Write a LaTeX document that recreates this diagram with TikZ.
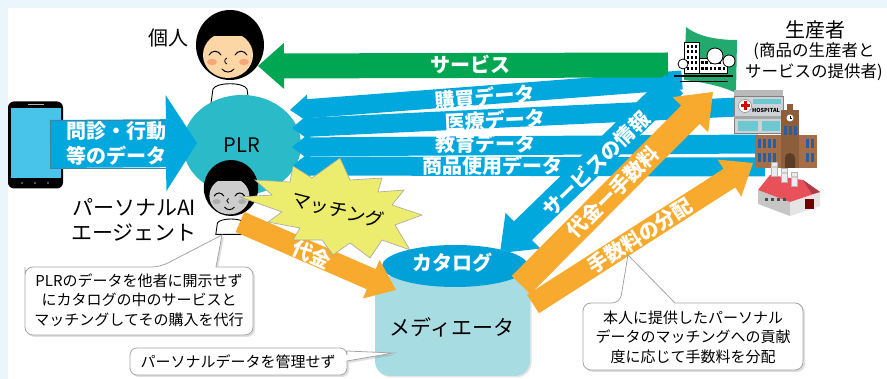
\documentclass[tikz,border=0pt]{standalone}
\usepackage{fontspec}
\setmainfont{Noto Sans CJK JP}
\usetikzlibrary{calc,shadows,shapes.geometric}

\definecolor{bgblue}{RGB}{234,245,252}
\definecolor{flowblue}{RGB}{0,168,222}
\definecolor{flowedge}{RGB}{70,130,160}
\definecolor{plrteal}{RGB}{43,187,200}
\definecolor{svcgreen}{RGB}{0,166,81}
\definecolor{feeorange}{RGB}{247,170,45}
\definecolor{burst}{RGB}{236,236,110}
\definecolor{medfill}{RGB}{168,220,227}
\definecolor{catblue}{RGB}{0,160,216}
\definecolor{skin}{RGB}{253,214,165}
\definecolor{cheek}{RGB}{246,168,118}
\definecolor{agentface}{RGB}{205,205,205}
\definecolor{agentcheek}{RGB}{172,172,172}
\definecolor{notegray}{RGB}{165,165,165}
\definecolor{phonescreen}{RGB}{72,196,235}
\definecolor{officegreen}{RGB}{34,170,110}
\definecolor{hospgray}{RGB}{205,210,215}
\definecolor{hospwin}{RGB}{110,200,210}
\definecolor{univbrown}{RGB}{165,110,70}
\definecolor{univwin}{RGB}{40,95,160}
\definecolor{roofred}{RGB}{232,80,90}

% block arrow: [style]{tail}{tip}{body half width}{head half width}{head length}
\newcommand\blockarrow[6][]{%
  \coordinate (ba-h) at ($(#3)!#6!(#2)$);
  \path[#1] ($(#2)!#4!90:(#3)$) -- ($(ba-h)!#4!90:(#3)$) -- ($(ba-h)!#5!90:(#3)$)
    -- (#3) -- ($(ba-h)!#5!-90:(#3)$) -- ($(ba-h)!#4!-90:(#3)$)
    -- ($(#2)!#4!-90:(#3)$) -- cycle;}

% white label on a flow arrow: {name}{x,y}{angle}{text}
\newcommand\flowlabel[4]{%
  \node[wlab, rotate=#3] (#1) at (#2) {#4};}

\tikzset{
  wlab/.style={text=white, font=\bfseries\fontsize{20}{25}\selectfont, inner sep=0pt, align=center},
  blab/.style={text=black, font=\fontsize{20}{25}\selectfont, inner sep=0pt, align=center},
  note/.style={text=black, font=\fontsize{15}{19.5}\selectfont, inner sep=0pt, align=center},
  notebox/.style={draw=notegray, fill=white, line width=0.8pt,
    drop shadow={opacity=0.25, shadow xshift=2pt, shadow yshift=-2pt}},
  pics/kid/.style 2 args={code={
    \fill[white, draw=black, line width=0.9pt] (-19,58) -- (-17,44)
      .. controls (-14,37) and (14,37) .. (17,44) -- (19,58) -- cycle;
    \fill[black] (0,0) ellipse [x radius=34, y radius=35];
    \begin{scope}
      \clip (-40,-8) rectangle (40,60);
      \fill[#1] (-2,10) ellipse [x radius=25, y radius=23];
    \end{scope}
    \fill[#2] (-18,17) ellipse [x radius=5, y radius=3.2];
    \fill[#2] (14,17) ellipse [x radius=5, y radius=3.2];
    \draw[line width=1pt, line cap=round] (-21,10) .. controls (-18,5) and (-12,5) .. (-9,10);
    \draw[line width=1pt, line cap=round] (5,10) .. controls (8,5) and (14,5) .. (17,10);
    \draw[line width=0.8pt] (-3,13) .. controls (-6,14) and (-6,18) .. (-3,19);
    \draw[line width=1pt, line cap=round] (-8,24) .. controls (-5,28) and (1,28) .. (4,24);
  }}
}

\begin{document}
\begin{tikzpicture}[x=1pt, y=-1pt]
\useasboundingbox (0,0) rectangle (887,379);
\fill[bgblue] (0,0) rectangle (887,379);
\fill[white] (8,8) rectangle (887,379);

% ---- smartphone
\node[fill=black, rounded corners=6pt, minimum width=55pt, minimum height=87pt,
      inner sep=0pt] (phone) at (35.5,145) {};
\fill[phonescreen] (10.5,108) rectangle (60.5,178);
\fill[gray!60] (28,104) rectangle (44,105.5);
\foreach \x in {22,35,48} \fill[gray!70] (\x,183) circle[radius=0.9];

% ---- the individual
\pic (person) at (230,45) {kid={skin}{cheek}};
\node[blab] (person-label) at (168,38) {個人};

% ---- PLR store
\node[fill=plrteal, ellipse, minimum width=118pt, minimum height=100pt, inner sep=0pt]
      (plr) at (242,145) {};

% ---- data flowing into the PLR
\coordinate (buy-src) at (682,80);  \coordinate (buy-dst) at (290,110);
\coordinate (med-src) at (738,107); \coordinate (med-dst) at (292,128);
\coordinate (edu-src) at (758,144); \coordinate (edu-dst) at (292,147);
\coordinate (use-src) at (765,167); \coordinate (use-dst) at (292,166);
\blockarrow[fill=flowblue]{use-src}{use-dst}{9.5pt}{14pt}{18pt}
\blockarrow[fill=flowblue]{edu-src}{edu-dst}{9.5pt}{14pt}{18pt}
\blockarrow[fill=flowblue]{med-src}{med-dst}{9.5pt}{14pt}{18pt}
\blockarrow[fill=flowblue]{buy-src}{buy-dst}{9.5pt}{14pt}{18pt}

\coordinate (intake-src) at (50,144); \coordinate (intake-dst) at (197,143);
\blockarrow[fill=flowblue]{intake-src}{intake-dst}{24pt}{48pt}{31pt}
\draw[flowedge, line width=0.6pt] (166,120) -- (50,120) -- (50,168) -- (166,168);
\node[blab] (plr-label) at (plr.center) {PLR};

% ---- services back to the individual
\coordinate (svc-src) at (668,65); \coordinate (svc-dst) at (258,66);
\blockarrow[fill=svcgreen]{svc-src}{svc-dst}{12.5pt}{23pt}{26pt}

% ---- personal AI agent
\pic[scale=0.8] (agent) at (231,188) {kid={agentface}{agentcheek}};
\node[blab, font=\fontsize{21}{25}\selectfont] (agent-label) at (134,220) {パーソナルAI\\エージェント};

% ---- mediator with its catalog
\node[fill=medfill, rounded corners=15pt, minimum width=155pt, minimum height=100pt,
      inner sep=0pt, drop shadow={opacity=0.2, shadow xshift=1.5pt, shadow yshift=-1.5pt}]
      (mediator) at (452.5,326) {};
\node[fill=catblue, ellipse, minimum width=146pt, minimum height=42pt, inner sep=0pt]
      (catalog) at (455,266) {};
\node[blab, font=\fontsize{21}{25}\selectfont] (mediator-label) at (452,327) {メディエータ};

% ---- payment from the agent
\coordinate (price-src) at (240,222); \coordinate (price-dst) at (396,290);
\blockarrow[fill=feeorange]{price-src}{price-dst}{11pt}{21pt}{27pt}

% ---- matching burst
\fill[burst, draw=gray!70, line width=0.6pt]
  (240,197) -- (272,195) -- (255,180) -- (290,182) -- (293,166) -- (312,178)
  -- (340,158) -- (350,180) -- (382,178) -- (378,192) -- (404,190) -- (392,205)
  -- (422,215) -- (395,225) -- (410,250) -- (382,240) -- (370,258) -- (350,243)
  -- (333,255) -- (322,240) -- (293,240) -- (300,228) -- (268,222) -- (282,212) -- cycle;
\node[blab, font=\fontsize{19}{22}\selectfont, rotate=-14] (match) at (338,210) {マッチング};
\flowlabel{price-label}{312,255}{-24}{代金}

% ---- service information, payments and fees
\coordinate (info-src) at (674,84);  \coordinate (info-dst) at (500,253);
\coordinate (pay-src) at (521,285);  \coordinate (pay-dst) at (713,92);
\coordinate (share-src) at (533,304); \coordinate (share-dst) at (753,163);
\blockarrow[fill=flowblue]{info-src}{info-dst}{13pt}{25pt}{32pt}
\blockarrow[fill=feeorange]{pay-src}{pay-dst}{13pt}{25pt}{32pt}
\blockarrow[fill=feeorange]{share-src}{share-dst}{11pt}{22pt}{28pt}
\flowlabel{catalog-label}{452,263}{0}{カタログ}

% ---- producers: office, hospital, university, factory
\fill[officegreen] (686,27) .. controls (700,38) and (722,40) .. (737,40) -- (736,93)
  .. controls (722,86) and (702,82) .. (684,80) -- cycle;
\draw[fill=white, line width=0.8pt] (684,42) rectangle (699,73);
\foreach \i in {0,1,2} \foreach \j in {0,...,4} \fill (686.5+\i*4,45+\j*5.5) rectangle ++(2.5,3);
\draw[fill=white, line width=0.8pt] (699,58) rectangle (727,73);
\foreach \i in {0,...,5} {\fill (701+\i*4.3,61) rectangle ++(2.5,3); \fill (701+\i*4.3,67) rectangle ++(2.5,3);}
\draw[fill=white, line width=0.8pt] (715,56) circle[radius=8];
\draw[fill=white, line width=0.8pt] (729,61) circle[radius=6];
\draw[fill=white, line width=0.8pt] (683,64) circle[radius=5];
\draw[line width=1.2pt] (674,76) -- (733,76);
\draw[line width=0.8pt] (680,81) -- (728,81);
\coordinate (office) at (708,60);

\fill[gray!55] (734,90) rectangle (783,96);
\fill[hospgray, draw=gray, line width=0.5pt] (734,96) rectangle (783,133);
\fill[white, draw=gray, line width=0.5pt] (745,106) circle[radius=6.5];
\fill[red!85!black] (743.5,101.5) rectangle (746.5,110.5);
\fill[red!85!black] (740.5,104.5) rectangle (749.5,107.5);
\fill[hospwin] (753,99) rectangle (781,104);
\node[font=\bfseries\fontsize{5.5}{6}\selectfont, inner sep=0pt] (hospital) at (766,110) {HOSPITAL};
\fill[gray!70] (734,116) rectangle (783,119);
\fill[hospwin] (738,121) rectangle (758,131);
\fill[hospwin] (762,121) rectangle (780,131);

\fill[univbrown] (755,135) rectangle (817,168);
\fill[univbrown!85!black] (781,110) rectangle (799,168);
\fill[univbrown!85!black] (787,104) rectangle (793,110);
\fill[white] (790,118) circle[radius=3.5];
\draw[line width=0.5pt] (790,118) -- (790,116) (790,118) -- (791.5,118);
\foreach \x in {758,763,768,773,806,811} \fill[univwin] (\x,139) rectangle ++(2.5,9);
\foreach \x in {758,763,768,773,806,811} \fill[univwin] (\x,153) rectangle ++(2.5,9);
\foreach \x in {784,789,794} \fill[univwin] (\x,126) rectangle ++(2.5,9);
\fill[univbrown!55!black] (785,168) -- (785,158) arc[start angle=180, end angle=360, radius=5] -- (795,168) -- cycle;
\coordinate (university) at (786,140);

\fill[gray!45] (758,190) -- (790,202) -- (790,216) -- (758,204) -- cycle;
\fill[gray!20] (790,202) -- (820,192) -- (820,206) -- (790,216) -- cycle;
\fill[roofred] (758,190) -- (770,175) -- (803,180) -- (820,192) -- (790,202) -- cycle;
\fill[roofred!75!black] (803,180) -- (820,192) -- (812,194) -- cycle;
\foreach \x/\y in {771/162,781/168,791/172} {
  \fill[gray!15, draw=gray!60, line width=0.4pt] (\x,\y) rectangle ++(6,14);
  \fill[gray!40] (\x,\y+4) rectangle ++(6,2);}
\fill[red!45!black] (805,199) rectangle (814,209);
\foreach \x in {765,771,777,783} \fill[black!70] (\x,198+\x/60-12.75) rectangle ++(3,3);
\coordinate (factory) at (790,195);

\node[blab] (producer-label) at (815,30) {生産者};
\node[blab, font=\fontsize{16.5}{21}\selectfont] (producer-note) at (814,62)
  {(商品の生産者と\\サービスの提供者)};

% ---- arrow labels
\flowlabel{svc-label}{470,65}{0}{サービス}
\flowlabel{buy-label}{485,97}{4.4}{購買データ}
\flowlabel{med-label}{495,120}{2.6}{医療データ}
\flowlabel{edu-label}{485,144}{0}{教育データ}
\flowlabel{use-label}{492,166}{0}{商品使用データ}
\flowlabel{intake-label}{116,143}{0}{問診・行動\\等のデータ}
\flowlabel{info-label}{596,164}{44}{サービスの情報}
\flowlabel{pay-label}{613,192}{45}{代金ー手数料}
\flowlabel{share-label}{640,236}{32.6}{手数料の分配}

% ---- notes
\path[notebox] (25,275) [rounded corners=8pt] -- (25,267) -- (160,267) [sharp corners]
  -- (222,235) -- (216,267) [rounded corners=8pt] -- (253,267) -- (253,335) -- (25,335) -- cycle;
\node[note] (agent-note) at (139,300) {PLRのデータを他者に開示せず\\にカタログの中のサービスと\\マッチングしてその購入を代行};

\path[notebox] (130,362) [rounded corners=7pt] -- (130,348) -- (347,348) [sharp corners]
  -- (347,351) -- (393,353) -- (347,361) [rounded corners=7pt] -- (347,375) -- (130,375) -- cycle;
\node[note] (mediator-note) at (238,362) {パーソナルデータを管理せず};

\path[notebox] (583,320) [rounded corners=8pt] -- (583,303) -- (620,303) [sharp corners]
  -- (628,255) -- (675,303) [rounded corners=8pt] -- (803,303) -- (803,370) -- (583,370) -- cycle;
\node[note] (fee-note) at (693,337) {本人に提供したパーソナル\\データのマッチングへの貢献\\度に応じて手数料を分配};
\end{tikzpicture}
\end{document}
